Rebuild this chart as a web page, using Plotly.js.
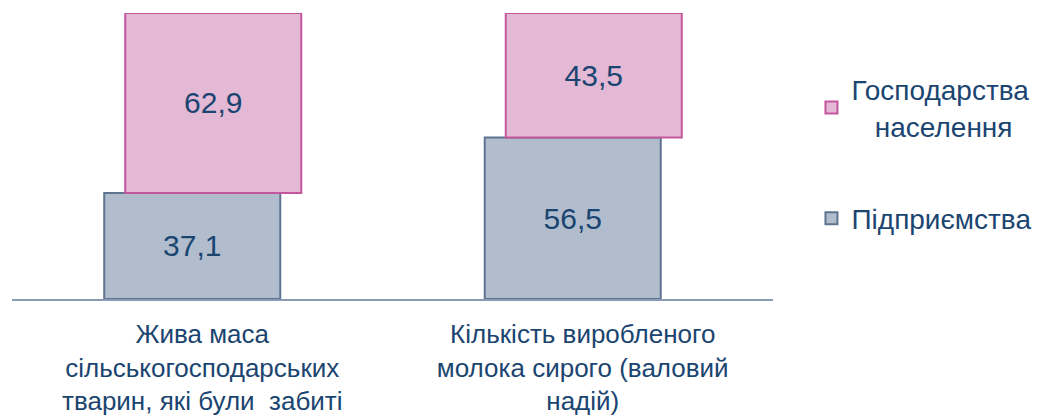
<!DOCTYPE html>
<html>
<head>
<meta charset="utf-8">
<script src="https://cdn.plot.ly/plotly-3.0.1.min.js"></script>
<style>html,body{margin:0;padding:0;background:#fff;}#chart{width:1043px;height:417px;}</style>
</head>
<body>
<div id="chart"></div>
<script>
const categories = [
  "Жива маса<br>сільськогосподарських<br>тварин, які були\u00A0 забиті",
  "Кількість виробленого<br>молока сирого (валовий<br>надій)"
];
const enterprises = [37.1, 56.5];   // Підприємства
const households = [62.9, 43.5];    // Господарства населення
const seriesNames = ["Підприємства", "Господарства<br>\u00A0\u00A0\u00A0населення"];

const textColor = "#1B4571";
const font = "Liberation Sans, Arial, sans-serif";

const traces = [
  {
    type: "bar", x: categories, y: enterprises, name: seriesNames[0],
    legendgroup: "a", legendrank: 2,
    width: 0.4626, offset: -0.2576,
    marker: {color: "#B1BDCD", line: {color: "#5E7491", width: 2}},
    texttemplate: "%{y:.1f}", textposition: "inside", insidetextanchor: "middle",
    textfont: {family: font, size: 30, color: textColor},
    cliponaxis: false, hoverinfo: "skip"
  },
  {
    type: "bar", x: categories, y: households, base: enterprises, name: seriesNames[1],
    legendgroup: "b", legendrank: 1,
    width: 0.4626, offset: -0.2024,
    marker: {color: "#E4B9D5", line: {color: "#C4569E", width: 2}},
    texttemplate: "%{y:.1f}", textposition: "inside", insidetextanchor: "middle",
    textfont: {family: font, size: 30, color: textColor},
    cliponaxis: false, hoverinfo: "skip"
  }
];

const layout = {
  width: 1043, height: 417,
  margin: {l: 12, r: 270, t: 13, b: 118, pad: 0, autoexpand: false},
  paper_bgcolor: "#ffffff", plot_bgcolor: "#ffffff",
  barmode: "overlay",
  separators: ", ",
  font: {family: font, size: 26, color: textColor},
  showlegend: true,
  legend: {
    xref: "container", yref: "container",
    x: 0.778, xanchor: "left", y: 0.845, yanchor: "top",
    traceorder: "grouped", tracegroupgap: 53,
    font: {family: font, size: 28, color: textColor},
    bgcolor: "rgba(0,0,0,0)"
  },
  xaxis: {
    type: "category",
    showline: true, linecolor: "#8A9BB5", linewidth: 1.5,
    showgrid: false, zeroline: false, ticks: "",
    ticklabelstandoff: 11,
    tickfont: {family: font, size: 26, color: textColor},
    fixedrange: true
  },
  yaxis: {
    range: [0, 100], visible: false, showgrid: false, zeroline: false, fixedrange: true
  }
};

Plotly.newPlot("chart", traces, layout, {staticPlot: true, displayModeBar: false});
</script>
</body>
</html>
